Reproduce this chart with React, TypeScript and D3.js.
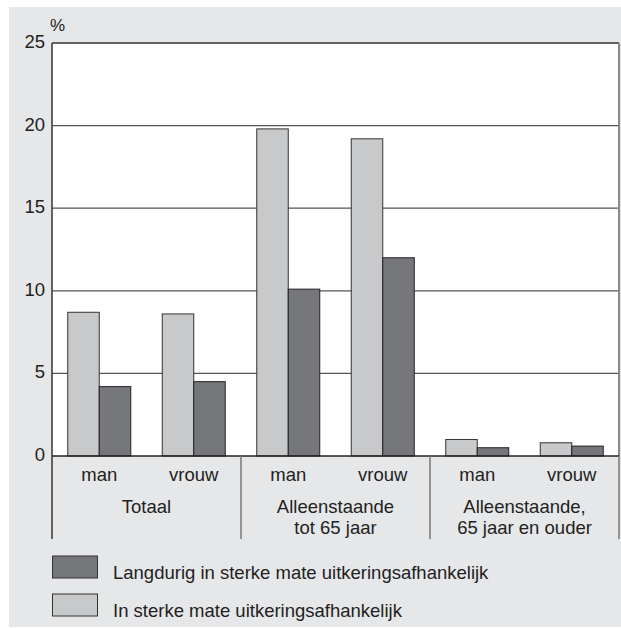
import React, { useEffect, useRef } from 'react'
import * as d3 from 'd3'

const groups = ['Totaal', 'Alleenstaande\ntot 65 jaar', 'Alleenstaande,\n65 jaar en ouder']
const subCategories = ['man', 'vrouw']
const seriesNames = ['In sterke mate uitkeringsafhankelijk', 'Langdurig in sterke mate uitkeringsafhankelijk']
// per group: [man, vrouw]
const sterkValues = [8.7, 8.6, 19.8, 19.2, 1.0, 0.8]
const langdurigValues = [4.2, 4.5, 10.1, 12.0, 0.5, 0.6]
const yTicks = [0, 5, 10, 15, 20, 25]

const W = 621
const H = 628
const LIGHT = '#c8c9cb'
const DARK = '#76777b'
const FONT = '"Liberation Sans", Arial, Helvetica, sans-serif'
const FS = 18.5

const App: React.FC = () => {
  const svgRef = useRef<SVGSVGElement>(null)

  useEffect(() => {
    if (!svgRef.current) return
    const svg = d3.select(svgRef.current)
    svg.selectAll('*').remove()

    const left = 52
    const right = 619
    const top = 43
    const bottom = 456

    // Panel background
    svg.append('rect')
      .attr('x', 9).attr('y', 7)
      .attr('width', W - 9).attr('height', 620)
      .attr('fill', '#e6e7e8')

    svg.append('rect')
      .attr('x', left).attr('y', top)
      .attr('width', right - left).attr('height', bottom - top)
      .attr('fill', '#fff')

    const y = d3.scaleLinear().domain([0, 25]).range([bottom, top])

    const slots = groups.flatMap((g, gi) => subCategories.map(s => `${gi}-${s}`))
    const x = d3.scaleBand<string>().domain(slots).range([left, right]).paddingInner(0).paddingOuter(0)
    const xi = d3.scaleBand<string>().domain(['sterk', 'lang']).range([0, x.bandwidth()]).paddingInner(0).paddingOuter(0.5)
    const xg = d3.scaleBand<number>().domain(groups.map((_, i) => i)).range([left, right])

    // Gridlines
    svg.append('g').selectAll('line')
      .data(yTicks.filter(t => t > 0 && t < 25))
      .enter().append('line')
      .attr('x1', left).attr('x2', right)
      .attr('y1', d => y(d)).attr('y2', d => y(d))
      .attr('stroke', '#555').attr('stroke-width', 1.2)

    // Top border
    svg.append('line')
      .attr('x1', left).attr('x2', right)
      .attr('y1', y(25)).attr('y2', y(25))
      .attr('stroke', '#333').attr('stroke-width', 1.5)

    // Right border
    svg.append('line')
      .attr('x1', right).attr('x2', right)
      .attr('y1', top).attr('y2', bottom)
      .attr('stroke', '#8a8a8a').attr('stroke-width', 2)

    // Bars
    const bars = slots.map((s, i) => ({ slot: s, sterk: sterkValues[i], lang: langdurigValues[i] }))
    const barG = svg.append('g')
    barG.selectAll('rect.sterk')
      .data(bars).enter().append('rect')
      .attr('class', 'sterk')
      .attr('x', d => (x(d.slot) as number) + (xi('sterk') as number))
      .attr('y', d => y(d.sterk))
      .attr('width', xi.bandwidth())
      .attr('height', d => y(0) - y(d.sterk))
      .attr('fill', LIGHT).attr('stroke', '#333').attr('stroke-width', 1)
    barG.selectAll('rect.lang')
      .data(bars).enter().append('rect')
      .attr('class', 'lang')
      .attr('x', d => (x(d.slot) as number) + (xi('lang') as number))
      .attr('y', d => y(d.lang))
      .attr('width', xi.bandwidth())
      .attr('height', d => y(0) - y(d.lang))
      .attr('fill', DARK).attr('stroke', '#222').attr('stroke-width', 1)

    // Axes lines
    svg.append('line')
      .attr('x1', left).attr('x2', right)
      .attr('y1', bottom).attr('y2', bottom)
      .attr('stroke', '#222').attr('stroke-width', 1.5)
    svg.append('line')
      .attr('x1', left).attr('x2', left)
      .attr('y1', top).attr('y2', 539)
      .attr('stroke', '#333').attr('stroke-width', 1.5)

    // Group dividers below axis
    svg.append('g').selectAll('line')
      .data(groups.map((_, i) => i).slice(1).concat([groups.length]))
      .enter().append('line')
      .attr('x1', d => d < groups.length ? (xg(d) as number) : right)
      .attr('x2', d => d < groups.length ? (xg(d) as number) : right)
      .attr('y1', bottom).attr('y2', 539)
      .attr('stroke', '#777').attr('stroke-width', 1.5)

    // Y tick labels
    svg.append('g').selectAll('text')
      .data(yTicks).enter().append('text')
      .attr('x', 45).attr('y', d => y(d) + 5)
      .attr('text-anchor', 'end')
      .attr('font-family', FONT).attr('font-size', FS).attr('fill', '#222')
      .text(d => d)

    svg.append('text')
      .attr('x', 50).attr('y', 31)
      .attr('font-family', FONT).attr('font-size', 17).attr('fill', '#222')
      .text('%')

    // Sub category labels
    svg.append('g').selectAll('text')
      .data(slots).enter().append('text')
      .attr('x', d => (x(d) as number) + x.bandwidth() / 2)
      .attr('y', 481)
      .attr('text-anchor', 'middle')
      .attr('font-family', FONT).attr('font-size', FS).attr('fill', '#222')
      .text(d => d.split('-')[1])

    // Group labels
    groups.forEach((g, i) => {
      const cx = (xg(i) as number) + xg.bandwidth() / 2
      const t = svg.append('text')
        .attr('x', cx)
        .attr('y', 512.5)
        .attr('text-anchor', 'middle')
        .attr('font-family', FONT).attr('font-size', FS).attr('fill', '#222')
      g.split('\n').forEach((line, li) => {
        t.append('tspan')
          .attr('x', cx)
          .attr('dy', li === 0 ? 0 : 21.5)
          .text(line)
      })
    })

    // Legend
    const legend = [
      { name: seriesNames[1], color: DARK, y: 556 },
      { name: seriesNames[0], color: LIGHT, y: 594 }
    ]
    const lg = svg.append('g').selectAll('g').data(legend).enter().append('g')
    lg.append('rect')
      .attr('x', 52.5).attr('y', d => d.y)
      .attr('width', 45).attr('height', 22)
      .attr('fill', d => d.color).attr('stroke', '#333').attr('stroke-width', 1)
    lg.append('text')
      .attr('x', 113).attr('y', d => d.y + 23)
      .attr('font-family', FONT).attr('font-size', FS).attr('fill', '#222')
      .text(d => d.name)
  }, [])

  return (
    <svg
      ref={svgRef}
      width={W}
      height={H}
      style={{ position: 'absolute', left: 0, top: 0, background: '#fff' }}
    />
  )
}

export default App
